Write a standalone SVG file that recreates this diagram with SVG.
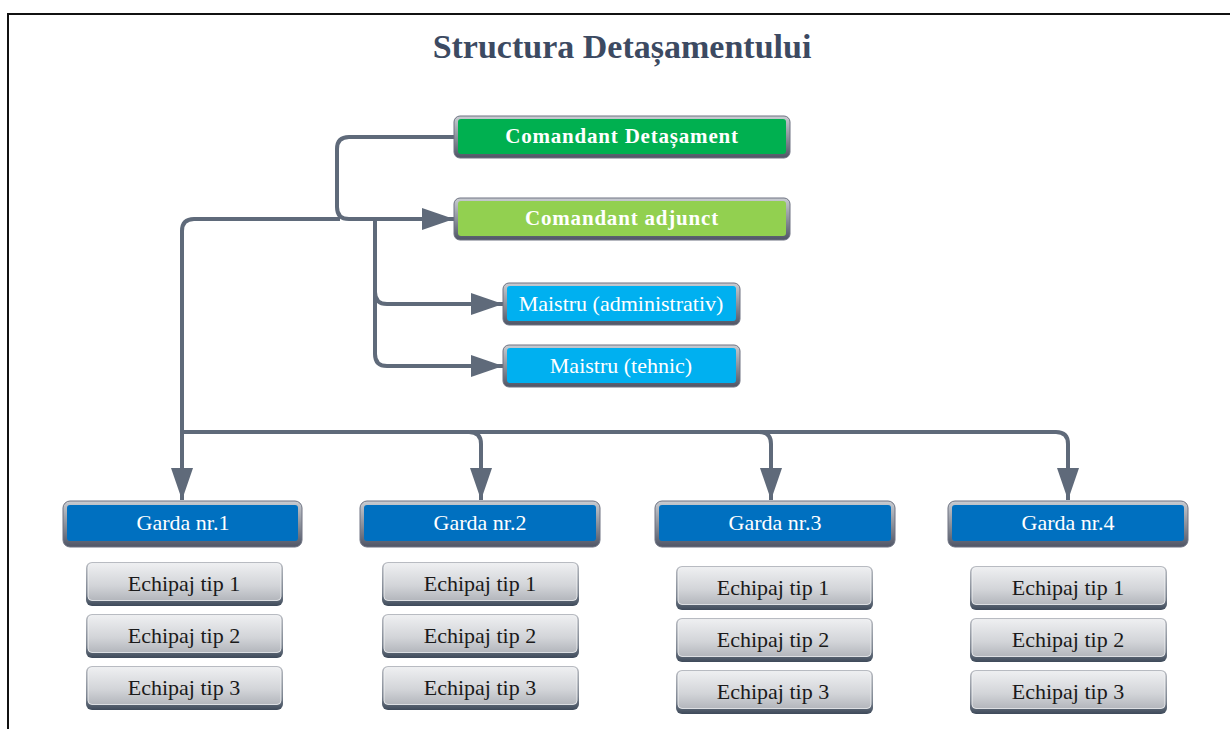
<svg xmlns="http://www.w3.org/2000/svg" width="1230" height="729" viewBox="0 0 1230 729">
  <defs>
    <linearGradient id="bevel" x1="0" y1="0" x2="0" y2="1">
      <stop offset="0" stop-color="#c9ccd2"/>
      <stop offset="0.5" stop-color="#8d929c"/>
      <stop offset="1" stop-color="#4f5566"/>
    </linearGradient>
    <linearGradient id="steel" x1="0" y1="0" x2="0" y2="1">
      <stop offset="0" stop-color="#eeeff1"/>
      <stop offset="0.6" stop-color="#d2d4d8"/>
      <stop offset="1" stop-color="#b3b6bc"/>
    </linearGradient>
    <linearGradient id="steelEdge" x1="0" y1="0" x2="0" y2="1">
      <stop offset="0" stop-color="#b9bcc2"/>
      <stop offset="0.7" stop-color="#7c8490"/>
      <stop offset="1" stop-color="#3e4a5a"/>
    </linearGradient>
    <marker id="arrow" viewBox="0 0 32 24" refX="32" refY="12" markerWidth="32" markerHeight="24" markerUnits="userSpaceOnUse" orient="auto">
      <path d="M0,1 L32,12 L0,23 Z" fill="#5f6a7a"/>
    </marker>
  </defs>
  <style>
    .frame { fill: none; stroke: #111; stroke-width: 2; }
    .title { font-family: "Liberation Serif", "Times New Roman", serif; font-size: 34px; font-weight: bold; fill: #3c4a62; text-anchor: middle; }
    .link { fill: none; stroke: #5f6a7a; stroke-width: 4; }
    .outer { fill: url(#bevel); stroke: #6e7382; stroke-width: 1; }
    .lbl { font-family: "Liberation Serif", "Times New Roman", serif; font-size: 22px; text-anchor: middle; }
    .white { fill: #ffffff; }
    .bold { font-size: 21px; font-weight: bold; letter-spacing: 0.8px; }
    .dark { fill: #1a1a1a; }
    .crew-edge { fill: url(#steelEdge); }
    .crew-face { fill: url(#steel); stroke: #f4f5f6; stroke-width: 0.8; }
  </style>

  <!-- page frame -->
  <path class="frame" d="M8,729 V14 H1230"/>

  <text class="title" x="622" y="58">Structura Detașamentului</text>

  <!-- connectors -->
  <g id="connectors">
    <path class="link" d="M454,137 H349 Q337,137 337,149 V207 Q337,219 349,219 H454" marker-end="url(#arrow)"/>
    <path class="link" d="M340,219 H194 Q182,219 182,231 V500" marker-end="url(#arrow)"/>
    <path class="link" d="M375,219 V292 Q375,304 387,304 H503" marker-end="url(#arrow)"/>
    <path class="link" d="M375,290 V354 Q375,366 387,366 H503" marker-end="url(#arrow)"/>
    <path class="link" d="M182,432 H469 Q481,432 481,444 V500" marker-end="url(#arrow)"/>
    <path class="link" d="M470,432 H759 Q771,432 771,444 V500" marker-end="url(#arrow)"/>
    <path class="link" d="M760,432 H1056 Q1068,432 1068,444 V500" marker-end="url(#arrow)"/>
  </g>

  <!-- command -->
  <g id="comandant">
    <rect class="outer" x="454" y="116" width="336" height="42" rx="6"/>
    <rect x="458" y="119" width="328" height="35" rx="3" fill="#00b050"/>
    <text class="lbl white bold" x="622" y="143">Comandant Detașament</text>
  </g>
  <g id="adjunct">
    <rect class="outer" x="454" y="198" width="336" height="42" rx="6"/>
    <rect x="458" y="201" width="328" height="35" rx="3" fill="#92d050"/>
    <text class="lbl white bold" x="622" y="225">Comandant adjunct</text>
  </g>

  <!-- foremen -->
  <g id="maistru-adm">
    <rect class="outer" x="503" y="283" width="237" height="42" rx="6"/>
    <rect x="507" y="286" width="229" height="35" rx="3" fill="#00b0f0"/>
    <text class="lbl white" x="621" y="311">Maistru (administrativ)</text>
  </g>
  <g id="maistru-teh">
    <rect class="outer" x="503" y="345" width="237" height="42" rx="6"/>
    <rect x="507" y="348" width="229" height="35" rx="3" fill="#00b0f0"/>
    <text class="lbl white" x="621" y="373">Maistru (tehnic)</text>
  </g>

  <!-- guards -->
  <g id="garda1">
    <rect class="outer" x="63" y="501" width="239" height="46" rx="7"/>
    <rect x="67" y="505" width="231" height="36" rx="3" fill="#0070c0"/>
    <text class="lbl white" x="183" y="530">Garda nr.1</text>
  </g>
  <g id="garda2">
    <rect class="outer" x="360" y="501" width="240" height="46" rx="7"/>
    <rect x="364" y="505" width="232" height="36" rx="3" fill="#0070c0"/>
    <text class="lbl white" x="480" y="530">Garda nr.2</text>
  </g>
  <g id="garda3">
    <rect class="outer" x="655" y="501" width="240" height="46" rx="7"/>
    <rect x="659" y="505" width="232" height="36" rx="3" fill="#0070c0"/>
    <text class="lbl white" x="775" y="530">Garda nr.3</text>
  </g>
  <g id="garda4">
    <rect class="outer" x="948" y="501" width="240" height="46" rx="7"/>
    <rect x="952" y="505" width="232" height="36" rx="3" fill="#0070c0"/>
    <text class="lbl white" x="1068" y="530">Garda nr.4</text>
  </g>

  <!-- crews, guard 1 -->
  <g id="g1-e1"><rect class="crew-edge" x="86" y="562" width="197" height="44" rx="6"/><rect class="crew-face" x="88" y="563.5" width="193" height="37" rx="4"/><text class="lbl dark" x="184" y="591">Echipaj tip 1</text></g>
  <g id="g1-e2"><rect class="crew-edge" x="86" y="614" width="197" height="44" rx="6"/><rect class="crew-face" x="88" y="615.5" width="193" height="37" rx="4"/><text class="lbl dark" x="184" y="643">Echipaj tip 2</text></g>
  <g id="g1-e3"><rect class="crew-edge" x="86" y="666" width="197" height="44" rx="6"/><rect class="crew-face" x="88" y="667.5" width="193" height="37" rx="4"/><text class="lbl dark" x="184" y="695">Echipaj tip 3</text></g>

  <!-- crews, guard 2 -->
  <g id="g2-e1"><rect class="crew-edge" x="382" y="562" width="197" height="44" rx="6"/><rect class="crew-face" x="384" y="563.5" width="193" height="37" rx="4"/><text class="lbl dark" x="480" y="591">Echipaj tip 1</text></g>
  <g id="g2-e2"><rect class="crew-edge" x="382" y="614" width="197" height="44" rx="6"/><rect class="crew-face" x="384" y="615.5" width="193" height="37" rx="4"/><text class="lbl dark" x="480" y="643">Echipaj tip 2</text></g>
  <g id="g2-e3"><rect class="crew-edge" x="382" y="666" width="197" height="44" rx="6"/><rect class="crew-face" x="384" y="667.5" width="193" height="37" rx="4"/><text class="lbl dark" x="480" y="695">Echipaj tip 3</text></g>

  <!-- crews, guard 3 -->
  <g id="g3-e1"><rect class="crew-edge" x="676" y="566" width="197" height="44" rx="6"/><rect class="crew-face" x="678" y="567.5" width="193" height="37" rx="4"/><text class="lbl dark" x="773" y="595">Echipaj tip 1</text></g>
  <g id="g3-e2"><rect class="crew-edge" x="676" y="618" width="197" height="44" rx="6"/><rect class="crew-face" x="678" y="619.5" width="193" height="37" rx="4"/><text class="lbl dark" x="773" y="647">Echipaj tip 2</text></g>
  <g id="g3-e3"><rect class="crew-edge" x="676" y="670" width="197" height="44" rx="6"/><rect class="crew-face" x="678" y="671.5" width="193" height="37" rx="4"/><text class="lbl dark" x="773" y="699">Echipaj tip 3</text></g>

  <!-- crews, guard 4 -->
  <g id="g4-e1"><rect class="crew-edge" x="970" y="566" width="197" height="44" rx="6"/><rect class="crew-face" x="972" y="567.5" width="193" height="37" rx="4"/><text class="lbl dark" x="1068" y="595">Echipaj tip 1</text></g>
  <g id="g4-e2"><rect class="crew-edge" x="970" y="618" width="197" height="44" rx="6"/><rect class="crew-face" x="972" y="619.5" width="193" height="37" rx="4"/><text class="lbl dark" x="1068" y="647">Echipaj tip 2</text></g>
  <g id="g4-e3"><rect class="crew-edge" x="970" y="670" width="197" height="44" rx="6"/><rect class="crew-face" x="972" y="671.5" width="193" height="37" rx="4"/><text class="lbl dark" x="1068" y="699">Echipaj tip 3</text></g>
</svg>
